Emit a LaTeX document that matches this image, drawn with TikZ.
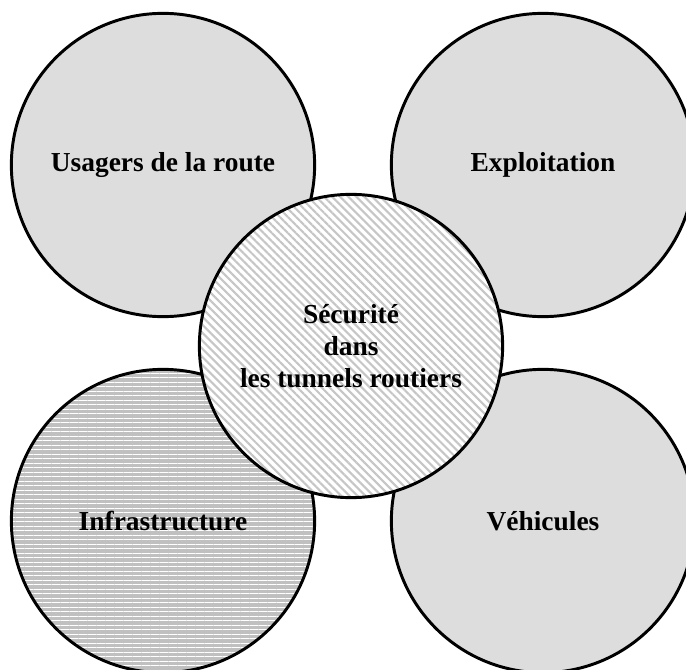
\documentclass[tikz,border=0pt]{standalone}
\usepackage{fontspec}
\setmainfont{Liberation Serif}
\usetikzlibrary{patterns.meta}
\definecolor{lightgrey}{HTML}{DDDDDD}
\definecolor{midgrey}{HTML}{C0C0C0}
\definecolor{hatchgrey}{HTML}{C6C6C6}
\begin{document}
\begin{tikzpicture}[x=0.025cm, y=-0.025cm,
    topic/.style={circle, draw=black, line width=2.1pt, minimum size=7.58cm, inner sep=0pt,
      align=center, font=\fontsize{19.5}{22.8}\selectfont\bfseries},
    plain/.style={topic, fill=lightgrey},
    ruled/.style={topic, preaction={fill=midgrey},
      pattern={Lines[angle=0, distance=3.2pt, line width=0.6pt]}, pattern color=white},
    hatched/.style={topic, preaction={fill=white},
      pattern={Lines[angle=-45, distance=4.05pt, line width=1.5pt]}, pattern color=hatchgrey}]
  \useasboundingbox (0,0) rectangle (686,670);
  \clip (0,0) rectangle (686,670);
  % the four fields around the centre
  \node[plain] (usagers) at (163,165) {Usagers de la route};
  \node[plain] (exploit) at (543,165) {Exploitation};
  \node[ruled] (infra) at (163,521) {Infrastructure};
  \node[plain] (vehic) at (543,521) {Véhicules};
  % centre circle on top
  \node[hatched] (secu) at (351,346) {Sécurité\\dans\\les tunnels routiers};
\end{tikzpicture}
\end{document}
